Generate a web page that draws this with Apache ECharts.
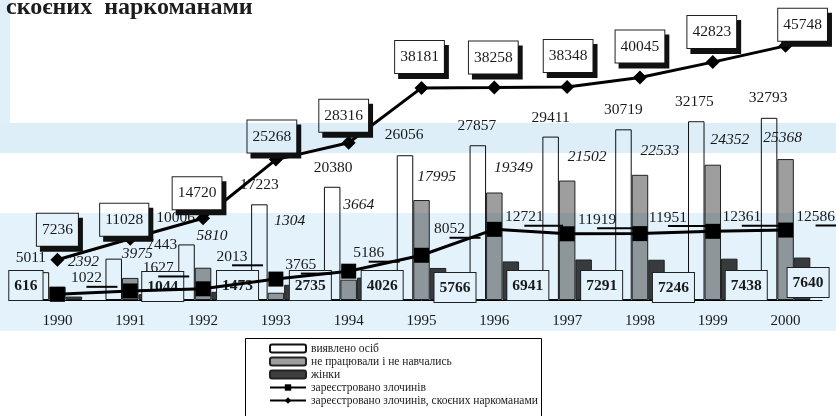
<!DOCTYPE html>
<html>
<head>
<meta charset="utf-8">
<script src="https://cdn.jsdelivr.net/npm/echarts@6/dist/echarts.min.js"></script>
<style>
  html, body { margin: 0; padding: 0; background: #fff; }
  #chart { width: 836px; height: 416px; }
</style>
</head>
<body>
<div id="chart"></div>
<script>
// роки
const years = ['1990', '1991', '1992', '1993', '1994', '1995', '1996', '1997', '1998', '1999', '2000'];

// значення
const detected = [5011, 7443, 10006, 17223, 20380, 26056, 27857, 29411, 30719, 32175, 32793];
const notWorking = [2392, 3975, 5810, 1304, 3664, 17995, 19349, 21502, 22533, 24352, 25368];
const women = [616, 1044, 1473, 2735, 4026, 5766, 6941, 7291, 7246, 7438, 7640];
const crimes = [1022, 1627, 2013, 3765, 5186, 8052, 12721, 11919, 11951, 12361, 12586];
const addictCrimes = [7236, 11028, 14720, 25268, 28316, 38181, 38258, 38348, 40045, 42823, 45748];

const names = [
  'виявлено осіб',
  'не працювали і не навчались',
  'жінки',
  'зареєстровано злочинів',
  'зареєстровано злочинів, скоєних наркоманами'
];

// зсуви підписів (як у вихідній діаграмі)
const detectedShift = [[-10, -6], [48, -6], [-11, -18], [0, -11], [1, -11], [-1, -12], [-1, -11], [0, -11], [0, -11], [-2, -11], [-1, -12]];
const notWorkingShift = [[26, -17], [7, -16], [9, -24], [14, -64], [10, -67], [15, -15], [19, -17], [20, -16], [20, -16], [17, -17], [-3, -13]];
const womenShift = [[-48, 0], [16, 1], [18, 0], [18, 0], [17, 0], [17, 2], [17, 0], [18, 0], [17, 2], [17, 0], [6, -3]];
const crimesShift = [[29, -15], [28, -22], [29, -31], [25, -13], [20, -17], [28, -25], [30, -11], [30, -13], [28, -15], [29, -13], [30, -12]];
const addictShift = [[0, -30], [-6, -19], [-6, -25], [-4, -23], [-5, -27], [-2, -31], [-1, -30], [1, -31], [0, -31], [-1, -30], [17, -21]];

const FONT = '"Liberation Serif", "Times New Roman", serif';
const INK = '#1a1a1a';

function withShift(values, shifts) {
  return values.map((v, i) => ({ value: v, label: { offset: shifts[i] } }));
}

let myChart = echarts.init(document.getElementById('chart'));
let option = {
  animation: false,
  backgroundColor: '#fff',
  grid: { left: 21, right: 14, top: 0, bottom: 116 },
  xAxis: {
    type: 'category',
    data: years,
    axisLine: { lineStyle: { color: '#000', width: 1 } },
    axisTick: { length: 4, lineStyle: { color: '#000' } },
    axisLabel: { color: INK, fontFamily: FONT, fontSize: 15, margin: 14 }
  },
  yAxis: {
    type: 'value',
    min: 0,
    max: 54000,
    show: false
  },
  legend: {
    orient: 'vertical',
    left: 245,
    top: 338,
    padding: [4, 4, 4, 24],
    itemGap: 0,
    itemWidth: 36,
    itemHeight: 8,
    textStyle: { color: INK, fontFamily: FONT, fontSize: 11.5, lineHeight: 13 },
    data: names
  },
  graphic: [
    {
      type: 'text',
      left: 6,
      top: -4,
      style: {
        text: 'скоєних  наркоманами',
        font: 'bold 24px "Liberation Serif"',
        fill: '#1c1c1c'
      }
    },
    // рамка легенди (нижній край за межами кадру)
    {
      type: 'rect', z: 3, silent: true,
      shape: { x: 245.5, y: 338.5, width: 296, height: 90 },
      style: { fill: '#fff', stroke: '#000', lineWidth: 1 }
    },
    // блакитний водяний знак
    { type: 'rect', z: 100, silent: true, shape: { x: 0, y: 123, width: 836, height: 30 }, style: { fill: 'rgb(221,238,249)', blend: 'multiply' } },
    { type: 'rect', z: 100, silent: true, shape: { x: 0, y: 213, width: 836, height: 118 }, style: { fill: 'rgb(228,242,251)', blend: 'multiply' } },
    { type: 'rect', z: 100, silent: true, shape: { x: 0, y: 0, width: 10, height: 123 }, style: { fill: 'rgb(224,240,250)', blend: 'multiply' } }
  ],
  series: [
    {
      name: names[0],
      type: 'bar',
      barWidth: 16.5,
      barGap: '0%',
      itemStyle: { color: '#fff', borderColor: '#111', borderWidth: 1 },
      label: {
        show: true, position: 'top', distance: 0,
        color: INK, fontFamily: FONT, fontSize: 15.5, lineHeight: 16
      },
      data: withShift(detected, detectedShift)
    },
    {
      name: names[1],
      type: 'bar',
      barWidth: 16.5,
      barGap: '0%',
      itemStyle: { color: '#9e9e9e', borderColor: '#222', borderWidth: 1 },
      label: {
        show: true, position: 'top', distance: 0,
        color: INK, fontFamily: FONT, fontSize: 15.5, fontStyle: 'italic', lineHeight: 16
      },
      data: withShift(notWorking, notWorkingShift)
    },
    {
      name: names[2],
      type: 'bar',
      barWidth: 16.5,
      barGap: '0%',
      itemStyle: { color: '#3e3e3e', borderColor: '#222', borderWidth: 1 },
      label: {
        show: true, position: 'insideBottom', distance: 0,
        color: INK, fontFamily: FONT, fontSize: 15.5, fontWeight: 'bold', lineHeight: 17,
        backgroundColor: '#fff', borderColor: '#222', borderWidth: 1, padding: [6, 5, 6, 5]
      },
      data: withShift(women, womenShift)
    },
    {
      name: names[3],
      type: 'line',
      symbol: 'rect',
      symbolSize: 15,
      lineStyle: { color: '#000', width: 3 },
      itemStyle: { color: '#000' },
      label: {
        show: true, position: 'inside',
        formatter: p => '{v|' + p.value + '}\n{u|}',
        rich: {
          v: { color: INK, fontFamily: FONT, fontSize: 15.5, lineHeight: 15 },
          u: { width: '100%', height: 2, backgroundColor: '#000' }
        }
      },
      data: withShift(crimes, crimesShift)
    },
    {
      name: names[4],
      type: 'line',
      symbol: 'diamond',
      symbolSize: 14,
      lineStyle: { color: '#000', width: 3 },
      itemStyle: { color: '#000' },
      label: {
        show: true, position: 'inside',
        color: INK, fontFamily: FONT, fontSize: 15.5, lineHeight: 17,
        backgroundColor: '#fff', borderColor: '#222', borderWidth: 1, padding: [8, 5, 7, 5],
        shadowColor: '#111', shadowBlur: 0, shadowOffsetX: 4, shadowOffsetY: 5
      },
      data: withShift(addictCrimes, addictShift)
    }
  ]
};
option && myChart.setOption(option);
</script>
</body>
</html>
